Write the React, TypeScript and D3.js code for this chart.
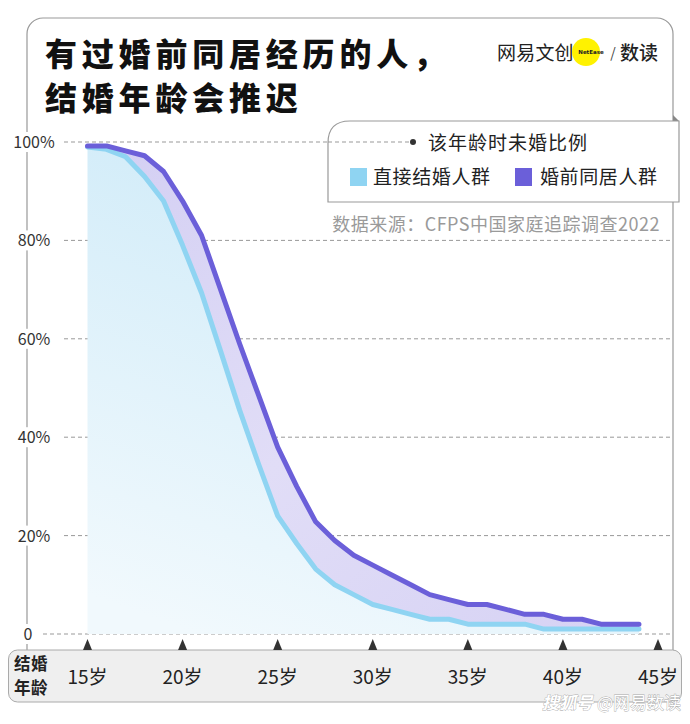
import React from "react";
import * as d3 from "d3";

const ages = [15,16,17,18,19,20,21,22,23,24,25,26,27,28,29,30,31,32,33,34,35,36,37,38,39,40,41,42,43,44];
const directMarriage = [99,98.5,97,93,88,79,69.3,57.5,45.5,34.5,24,18.4,13.2,10,8,6,5,4,3,3,2,2,2,2,1,1,1,1,1,1];
const cohabitFirst = [99.2,99.2,98.2,97.2,94,88,81,70,59,48.5,38,30,22.8,19,16,14,12,10,8,7,6,6,5,4,4,3,3,2,2,2];
const yTicks = [0,20,40,60,80,100];
const xTicks = [15,20,25,30,35,40,45];
const titleLines = ["有过婚前同居经历的人，", "结婚年龄会推迟"];
const axisTitleLines = ["结婚", "年龄"];
const legendTitle = "该年龄时未婚比例";
const seriesNames = ["直接结婚人群", "婚前同居人群"];
const seriesColors = ["#8fd4f2", "#6b5fd9"];
const sourceText = "数据来源：CFPS中国家庭追踪调查2022";

const FONT = "'Noto Sans CJK SC', 'Noto Sans', sans-serif";

export default function App() {
  const x = d3.scaleLinear().domain([15, 45]).range([87.5, 658]);
  const y = d3.scaleLinear().domain([0, 100]).range([634, 142]);

  const blueArea = d3.area<number>()
    .x((_, i) => x(ages[i]))
    .y0(y(0))
    .y1((d) => y(d))(directMarriage) || "";
  const bandArea = d3.area<number>()
    .x((_, i) => x(ages[i]))
    .y0((_, i) => y(directMarriage[i]))
    .y1((d) => y(d))(cohabitFirst) || "";
  const lineGen = d3.line<number>().x((_, i) => x(ages[i])).y((d) => y(d));

  const legendX0 = 328, legendX1 = 679, legendY0 = 121, legendY1 = 202, lr = 22;
  const legendPath = `M${legendX0},${legendY1} L${legendX0},${legendY0 + lr} Q${legendX0},${legendY0} ${legendX0 + lr},${legendY0} L${legendX1},${legendY0} L${legendX1},${legendY1} Z`;

  return (
    <svg width={690} height={724} style={{ position: "absolute", left: 0, top: 0, background: "#fff" }} fontFamily={FONT}>
      <defs>
        <linearGradient id="blueGrad" x1="0.6" y1="0" x2="0.2" y2="1">
          <stop offset="0" stopColor="#cdeaf8" />
          <stop offset="1" stopColor="#f1f9fd" />
        </linearGradient>
        <linearGradient id="purpleGrad" x1="0" y1="0" x2="1" y2="1">
          <stop offset="0" stopColor="#d3cff3" />
          <stop offset="0.5" stopColor="#e1ddf7" />
          <stop offset="1" stopColor="#d6d2f4" />
        </linearGradient>
      </defs>

      {/* card */}
      <rect x={27} y={18} width={646} height={650} rx={16} fill="#fff" stroke="#999" strokeWidth={1.2} />

      {/* title */}
      {titleLines.map((t, i) => (
        <text key={t} x={45} y={66 + i * 44} fontSize={32} fontWeight={900} fill="#111" letterSpacing={4.8}>{t}</text>
      ))}

      {/* logo */}
      <text x={497} y={60} fontSize={19} fill="#222" letterSpacing={0.2}>网易文创</text>
      <circle cx={586} cy={52} r={14} fill="#fff200" />
      <text x={591} y={54} fontSize={5.5} fontWeight={700} textAnchor="middle" fill="#222" fontFamily="'DejaVu Sans', sans-serif">NetEase</text>
      <text x={613} y={58} fontSize={14} textAnchor="middle" fill="#444">/</text>
      <text x={620} y={60} fontSize={19} fontWeight={500} fill="#222">数读</text>

      {/* gridlines */}
      {yTicks.map((t) => (
        <line key={t} x1={t === 0 ? 43 : 64} x2={t === 100 ? 410 : 670} y1={y(t)} y2={y(t)} stroke="#999" strokeDasharray="4 3" strokeWidth={1} />
      ))}

      {/* legend box */}
      <polygon points={`673,115 679,121 673,121`} fill="#888" />
      <path d={legendPath} fill="#fff" stroke="#999" strokeWidth={1.2} />
      <line x1={328} x2={410} y1={y(100)} y2={y(100)} stroke="#999" strokeDasharray="4 3" />
      <circle cx={413} cy={y(100)} r={3} fill="#333" />
      <text x={428} y={150} fontSize={19} fill="#222" letterSpacing={1}>{legendTitle}</text>
      <rect x={350} y={168} width={17} height={18} fill={seriesColors[0]} />
      <text x={373} y={184} fontSize={19} fill="#222" letterSpacing={0.6}>{seriesNames[0]}</text>
      <rect x={515} y={168} width={17} height={18} fill={seriesColors[1]} />
      <text x={540} y={184} fontSize={19} fill="#222" letterSpacing={0.6}>{seriesNames[1]}</text>

      {/* source */}
      <text x={660} y={231} fontSize={18} fill="#9a9a9a" textAnchor="end" letterSpacing={0.5}>{sourceText}</text>

      {/* y labels with white backgrounds */}
      {yTicks.map((t) => (
        <g key={t}>
          <rect x={t === 0 ? 20 : 10} y={y(t) - 10} width={t === 0 ? 17 : 48} height={20} fill="#fff" />
          <text x={t === 0 ? 28 : 34} y={y(t) + 6} fontSize={16} fill="#333" textAnchor="middle">{t === 0 ? "0" : `${t}%`}</text>
        </g>
      ))}

      {/* areas */}
      <path d={blueArea} fill="url(#blueGrad)" />
      <path d={bandArea} fill="url(#purpleGrad)" />
      <path d={lineGen(directMarriage) || ""} fill="none" stroke={seriesColors[0]} strokeWidth={5} strokeLinejoin="round" strokeLinecap="round" />
      <path d={lineGen(cohabitFirst) || ""} fill="none" stroke={seriesColors[1]} strokeWidth={5} strokeLinejoin="round" strokeLinecap="round" />

      {/* axis box */}
      <rect x={8.5} y={650} width={673} height={52} rx={9} fill="#efefef" stroke="#aaa" strokeWidth={1} />
      {xTicks.map((t) => (
        <g key={t}>
          <path d={`M${x(t) - 4.5},650 L${x(t)},639 L${x(t) + 4.5},650 Z`} fill="#333" />
          <text x={x(t)} y={684} fontSize={19} fill="#222" textAnchor="middle">{`${t}岁`}</text>
        </g>
      ))}
      {axisTitleLines.map((t, i) => (
        <text key={t} x={14} y={670 + i * 24} fontSize={16.5} fontWeight={700} fill="#222" letterSpacing={0.5}>{t}</text>
      ))}

      {/* watermark */}
      <text x={681} y={709} fontSize={17} textAnchor="end" fill="#fff" stroke="#aaa" strokeWidth={0.8} paintOrder="stroke">
        <tspan fontStyle="italic" fontWeight={700}>搜狐号</tspan>
        <tspan> @网易数读</tspan>
      </text>
    </svg>
  );
}
